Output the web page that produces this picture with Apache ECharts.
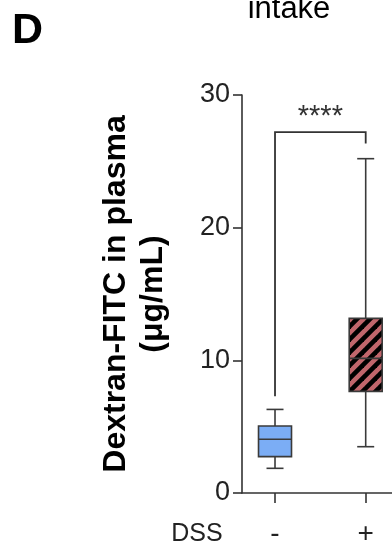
<!DOCTYPE html>
<html><head><meta charset="utf-8">
<script src="https://cdn.jsdelivr.net/npm/echarts@6/dist/echarts.min.js"></script>
<style>html,body{margin:0;padding:0;background:#fff}#c{width:392px;height:552px}</style>
</head><body><div id="c"></div>
<script>
// ---- data ----
const categories = ['-', '+'];
const categoryPositions = [0, 1];
// [min, Q1, median, Q3, max] in µg/mL
const boxMinus = [1.86, 2.74, 4.05, 5.05, 6.3];
const boxPlus = [3.49, 7.66, 10.15, 13.16, 25.2];
const yTicks = [0, 10, 20, 30];
// significance bracket: [left x, left bottom y, top y, right x, right bottom y]
const bracket = [0, 7.3, 27.2, 1, 26.35];
const sigLabel = '****';
const xAxisLabel = 'DSS';
const yAxisName = 'Dextran-FITC in plasma\n(\u03bcg/mL)';
const titleText = 'intake';
const panelLabel = 'D';

const FONT = '"Liberation Sans", Arial, sans-serif';

function makeHatch() {
  const s = 13;
  const c = document.createElement('canvas');
  c.width = s; c.height = s;
  const g = c.getContext('2d');
  g.fillStyle = '#c1666c';
  g.fillRect(0, 0, s, s);
  g.strokeStyle = '#000';
  g.lineWidth = 4.6;
  for (const k of [0, s, 2 * s]) {
    g.beginPath();
    g.moveTo(k + 5, -5);
    g.lineTo(k - s - 5, s + 5);
    g.stroke();
  }
  return c;
}
const fills = ['#7badf5', { image: makeHatch(), repeat: 'repeat' }];

const chart = echarts.init(document.getElementById('c'), null, { renderer: 'canvas' });

const lineStyle = { stroke: '#3a3a3a', lineWidth: 1.6 };

chart.setOption({
  animation: false,
  backgroundColor: '#fff',
  grid: { left: 242, right: 0, top: 95, bottom: 59, containLabel: false },
  xAxis: {
    type: 'value',
    min: -0.364,
    max: 1.29,
    axisLine: { show: true, onZero: false, lineStyle: { color: '#333', width: 1.6 } },
    axisTick: { show: true, length: 10, customValues: categoryPositions, lineStyle: { color: '#333', width: 1.6 } },
    axisLabel: {
      show: true, customValues: categoryPositions, margin: 27,
      formatter: v => categories[Math.round(v)] ?? '',
      fontFamily: FONT, fontSize: 28, color: '#222'
    },
    splitLine: { show: false }
  },
  yAxis: {
    type: 'value',
    min: 0, max: 30, interval: 10,
    name: yAxisName,
    nameLocation: 'middle',
    nameGap: 70,
    nameTextStyle: { fontFamily: FONT, fontSize: 32, fontWeight: 'bold', color: '#000', lineHeight: 37 },
    axisLine: { show: true, onZero: false, lineStyle: { color: '#333', width: 1.6 } },
    axisTick: { show: true, length: 9, lineStyle: { color: '#333', width: 1.6 } },
    axisLabel: { margin: 12, fontFamily: FONT, fontSize: 27, color: '#222',
      formatter: v => yTicks.includes(v) ? String(v) : '' },
    splitLine: { show: false }
  },
  graphic: [
    { type: 'text', left: 12, top: 10, style: { text: panelLabel, font: 'bold 43px ' + FONT, fill: '#000' } },
    { type: 'text', x: 289, y: 25, style: { text: titleText, font: '31px ' + FONT, fill: '#000', textAlign: 'center', textVerticalAlign: 'bottom' } },
    { type: 'text', x: 197, y: 534, style: { text: xAxisLabel, font: '25px ' + FONT, fill: '#222', textAlign: 'center', textVerticalAlign: 'middle' } }
  ],
  series: [
    {
      type: 'custom',
      clip: false,
      data: [[categoryPositions[0], ...boxMinus], [categoryPositions[1], ...boxPlus]],
      encode: { x: 0, y: [1, 2, 3, 4, 5] },
      renderItem(params, api) {
        const x = api.value(0);
        const mn = api.value(1), q1 = api.value(2), md = api.value(3), q3 = api.value(4), mx = api.value(5);
        const cx = api.coord([x, md])[0];
        const y = v => api.coord([x, v])[1];
        const hw = 16.5, cw = 8.5;
        return {
          type: 'group',
          children: [
            { type: 'line', shape: { x1: cx, y1: y(mx), x2: cx, y2: y(q3) }, style: lineStyle },
            { type: 'line', shape: { x1: cx, y1: y(q1), x2: cx, y2: y(mn) }, style: lineStyle },
            { type: 'line', shape: { x1: cx - cw, y1: y(mx), x2: cx + cw, y2: y(mx) }, style: lineStyle },
            { type: 'line', shape: { x1: cx - cw, y1: y(mn), x2: cx + cw, y2: y(mn) }, style: lineStyle },
            { type: 'rect', shape: { x: cx - hw, y: y(q3), width: 2 * hw, height: y(q1) - y(q3) },
              style: { fill: fills[params.dataIndex], stroke: '#3a3a3a', lineWidth: 1.6 } },
            { type: 'line', shape: { x1: cx - hw, y1: y(md), x2: cx + hw, y2: y(md) }, style: lineStyle }
          ]
        };
      }
    },
    {
      type: 'custom',
      clip: false,
      data: [bracket],
      encode: { x: [0, 3], y: [1, 2, 4] },
      renderItem(params, api) {
        const p1 = api.coord([api.value(0), api.value(1)]);
        const p2 = api.coord([api.value(0), api.value(2)]);
        const p3 = api.coord([api.value(3), api.value(2)]);
        const p4 = api.coord([api.value(3), api.value(4)]);
        return {
          type: 'group',
          children: [
            { type: 'polyline', shape: { points: [p1, p2, p3, p4] }, style: { stroke: '#333', lineWidth: 1.8, fill: null } },
            { type: 'text', x: (p2[0] + p3[0]) / 2, y: p2[1] - 1,
              style: { text: sigLabel, font: '29px ' + FONT, fill: '#333', textAlign: 'center', textVerticalAlign: 'bottom' } }
          ]
        };
      }
    }
  ]
});
</script>
</body></html>
